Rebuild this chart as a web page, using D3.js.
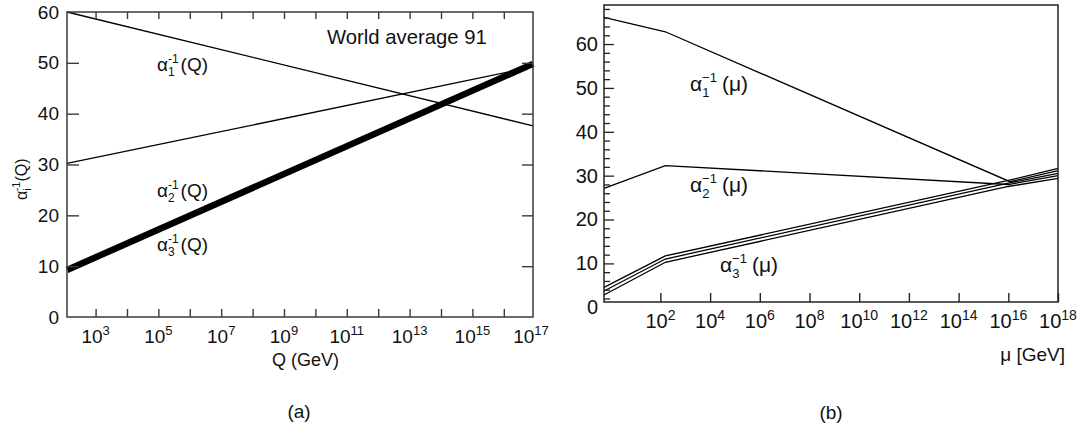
<!DOCTYPE html>
<html>
<head>
<meta charset="utf-8">
<script src="https://cdn.jsdelivr.net/npm/d3@7"></script>
<style>
  html, body { margin: 0; padding: 0; background: #fff; }
  svg { display: block; font-family: "Liberation Sans", Arial, Helvetica, sans-serif; }
</style>
</head>
<body>
<svg id="chart" width="1083" height="430"></svg>
<script>
// ---------------- DATA ----------------
// Panel (a): running couplings vs Q (GeV), straight lines in log Q
const aQ = [123, 8.5e16];
const aAlpha1 = [60.0, 37.6];
const aAlpha2 = [30.2, 49.2];
const aAlpha3 = [9.25, 49.8];
const aYTicks = [0, 10, 20, 30, 40, 50, 60];
const aXTickExp = [3, 4, 5, 6, 7, 8, 9, 10, 11, 12, 13, 14, 15, 16];
const aXLabelExp = [3, 5, 7, 9, 11, 13, 15, 17];

// Panel (b): running couplings vs mu (GeV)
const bMu = [0.537, 158, 1e16, 1e18];
const bMu1 = [0.537, 158, 1.17e16, 1e18];
const bAlpha1 = [66.1, 62.8, 28.62, 31.13];
const bAlpha2 = [27.1, 32.3, 27.98, 29.99];
const bAlpha3Hi = [4.55, 11.7, 28.9, 31.68];
const bAlpha3Mid = [3.71, 11.0, 28.28, 30.54];
const bAlpha3Lo = [2.8, 10.25, 27.53, 29.4];
const bYTicks = [0, 10, 20, 30, 40, 50, 60];
const bYMinor = d3.range(2, 69, 2);
const bXLabelExp = [2, 4, 6, 8, 10, 12, 14, 16, 18];

// ---------------- DRAW ----------------
const svg = d3.select("#chart");
const axisColor = "#3a3a3a";

function sup10(g, x, y, e, size, supSize) {
  const t = g.append("text").attr("x", x).attr("y", y)
    .attr("text-anchor", "middle").attr("font-size", size).attr("fill", "#111");
  t.append("tspan").text("10");
  t.append("tspan").attr("font-size", supSize).attr("dy", -8).text(e);
}

function alphaLabel(g, x, y, sub, supTxt, arg, big, small, gap, subDy, supDy) {
  const t = g.append("text").attr("x", x).attr("y", y).attr("font-size", big).attr("fill", "#111");
  t.append("tspan").text("α");
  t.append("tspan").attr("font-size", small).attr("dy", subDy).text(sub);
  t.append("tspan").attr("font-size", small).attr("dx", -small * 0.56).attr("dy", supDy - subDy).text(supTxt);
  t.append("tspan").attr("dy", -supDy).attr("dx", gap).text(arg);
  return t;
}

// ===== Panel (a) =====
const ax = d3.scaleLog().domain([123, 8.5e16]).range([67, 533]);
const ay = d3.scaleLinear().domain([0, 60]).range([317, 12]);
const ga = svg.append("g");

const lineA = d3.line().x(d => ax(d[0])).y(d => ay(d[1]));
[[aAlpha1, 1.3], [aAlpha2, 1.3], [aAlpha3, 6.5]].forEach(([vals, w]) => {
  ga.append("path").datum(aQ.map((q, i) => [q, vals[i]]))
    .attr("d", lineA).attr("fill", "none").attr("stroke", "#000")
    .attr("stroke-width", w);
});

const aTickVals = aXTickExp.map(e => Math.pow(10, e));
ga.append("g").attr("transform", "translate(0,317)")
  .call(d3.axisBottom(ax).tickValues(aTickVals).tickSize(-8).tickFormat(""))
  .call(g => g.select(".domain").remove())
  .call(g => g.selectAll("line").attr("stroke", axisColor).attr("stroke-width", 1.4));
ga.append("g").attr("transform", "translate(0,12)")
  .call(d3.axisTop(ax).tickValues(aTickVals).tickSize(-7).tickFormat(""))
  .call(g => g.select(".domain").remove())
  .call(g => g.selectAll("line").attr("stroke", axisColor).attr("stroke-width", 1.4));
ga.append("g").attr("transform", "translate(67,0)")
  .call(d3.axisLeft(ay).tickValues(aYTicks).tickSize(-12).tickPadding(8))
  .call(g => g.select(".domain").remove())
  .call(g => g.selectAll(".tick").filter(d => d <= 0 || d >= 60).select("line").remove())
  .call(g => g.selectAll("line").attr("stroke", axisColor).attr("stroke-width", 1.4))
  .call(g => g.selectAll("text").attr("font-size", 19).attr("fill", "#111")
    .attr("font-family", "Liberation Sans, Arial, sans-serif"));
ga.append("g").attr("transform", "translate(533,0)")
  .call(d3.axisRight(ay).tickValues(aYTicks.filter(v => v > 0 && v < 60)).tickSize(-11).tickFormat(""))
  .call(g => g.select(".domain").remove())
  .call(g => g.selectAll("line").attr("stroke", axisColor).attr("stroke-width", 1.4));
ga.append("rect").attr("x", 67).attr("y", 12).attr("width", 466).attr("height", 305)
  .attr("fill", "none").attr("stroke", axisColor).attr("stroke-width", 1.5);

aXLabelExp.forEach(e => sup10(ga, Math.min(ax(Math.pow(10, e)), 531), 343, e, 19, 13));

ga.append("text").attr("x", 272).attr("y", 366).attr("font-size", 18).attr("fill", "#111").text("Q (GeV)");
ga.append("text").attr("x", 327).attr("y", 44).attr("font-size", 20.3).attr("fill", "#111").text("World average 91");

// y title
const yt = ga.append("text").attr("transform", "translate(27,200) rotate(-90)")
  .attr("font-size", 16).attr("fill", "#111");
yt.append("tspan").text("α");
yt.append("tspan").attr("font-size", 11).attr("dy", 4).text("i");
yt.append("tspan").attr("font-size", 11).attr("dx", -3).attr("dy", -11).text("-1");
yt.append("tspan").attr("dy", 7).text("(Q)");

alphaLabel(ga, 157, 71, "1", "-1", "(Q)", 19, 12, 2, 5, -8);
alphaLabel(ga, 157, 197, "2", "-1", "(Q)", 19, 12, 2, 5, -8);
alphaLabel(ga, 157, 251, "3", "-1", "(Q)", 19, 12, 2, 5, -8);

ga.append("text").attr("x", 299).attr("y", 418).attr("text-anchor", "middle")
  .attr("font-size", 19).attr("fill", "#111").text("(a)");

// ===== Panel (b) =====
const bx = d3.scaleLog().domain([0.537, 1e18]).range([604, 1058]);
const by = d3.scaleLinear().domain([1.2, 68.9]).range([302, 5]);
const gb = svg.append("g");
const lineB = d3.line().x(d => bx(d[0])).y(d => by(d[1]));
[[bMu1, bAlpha1], [bMu, bAlpha2], [bMu, bAlpha3Hi], [bMu, bAlpha3Mid], [bMu, bAlpha3Lo]].forEach(([mu, vals]) => {
  gb.append("path").datum(mu.map((m, i) => [m, vals[i]]))
    .attr("d", lineB).attr("fill", "none").attr("stroke", "#000").attr("stroke-width", 1.3);
});

gb.append("g").attr("transform", "translate(0,302)")
  .call(d3.axisBottom(bx).tickValues(bXLabelExp.map(e => Math.pow(10, e))).tickSize(-9).tickFormat(""))
  .call(g => g.select(".domain").remove())
  .call(g => g.selectAll("line").attr("stroke", "#222").attr("stroke-width", 1.4));
gb.append("g").attr("transform", "translate(604,0)")
  .call(d3.axisLeft(by).tickValues(bYMinor.filter(v => v % 10 !== 0)).tickSize(-6).tickFormat(""))
  .call(g => g.select(".domain").remove())
  .call(g => g.selectAll("line").attr("stroke", "#222").attr("stroke-width", 1.3));
gb.append("g").attr("transform", "translate(604,0)")
  .call(d3.axisLeft(by).tickValues(bYTicks).tickSize(-10).tickPadding(6))
  .call(g => g.select(".domain").remove())
  .call(g => g.selectAll(".tick").filter(d => d < 1.2).select("line").remove())
  .call(g => g.selectAll("line").attr("stroke", "#222").attr("stroke-width", 1.3))
  .call(g => g.selectAll("text").attr("font-size", 20).attr("fill", "#111")
    .attr("font-family", "Liberation Sans, Arial, sans-serif"));
gb.append("rect").attr("x", 604).attr("y", 5).attr("width", 454).attr("height", 297)
  .attr("fill", "none").attr("stroke", "#222").attr("stroke-width", 1.5);

bXLabelExp.forEach(e => sup10(gb, bx(Math.pow(10, e)), 328, e, 20, 14));

gb.append("text").attr("x", 1065).attr("y", 361).attr("text-anchor", "end")
  .attr("font-size", 19).attr("fill", "#111").text("μ [GeV]");

alphaLabel(gb, 690, 91, "1", "−1", "(μ)", 21, 13, 5, 6, -9);
alphaLabel(gb, 690, 192, "2", "−1", "(μ)", 21, 13, 5, 6, -9);
alphaLabel(gb, 720, 272, "3", "−1", "(μ)", 21, 13, 5, 6, -9);

gb.append("text").attr("x", 831).attr("y", 419).attr("text-anchor", "middle")
  .attr("font-size", 19).attr("fill", "#111").text("(b)");
</script>
</body>
</html>
